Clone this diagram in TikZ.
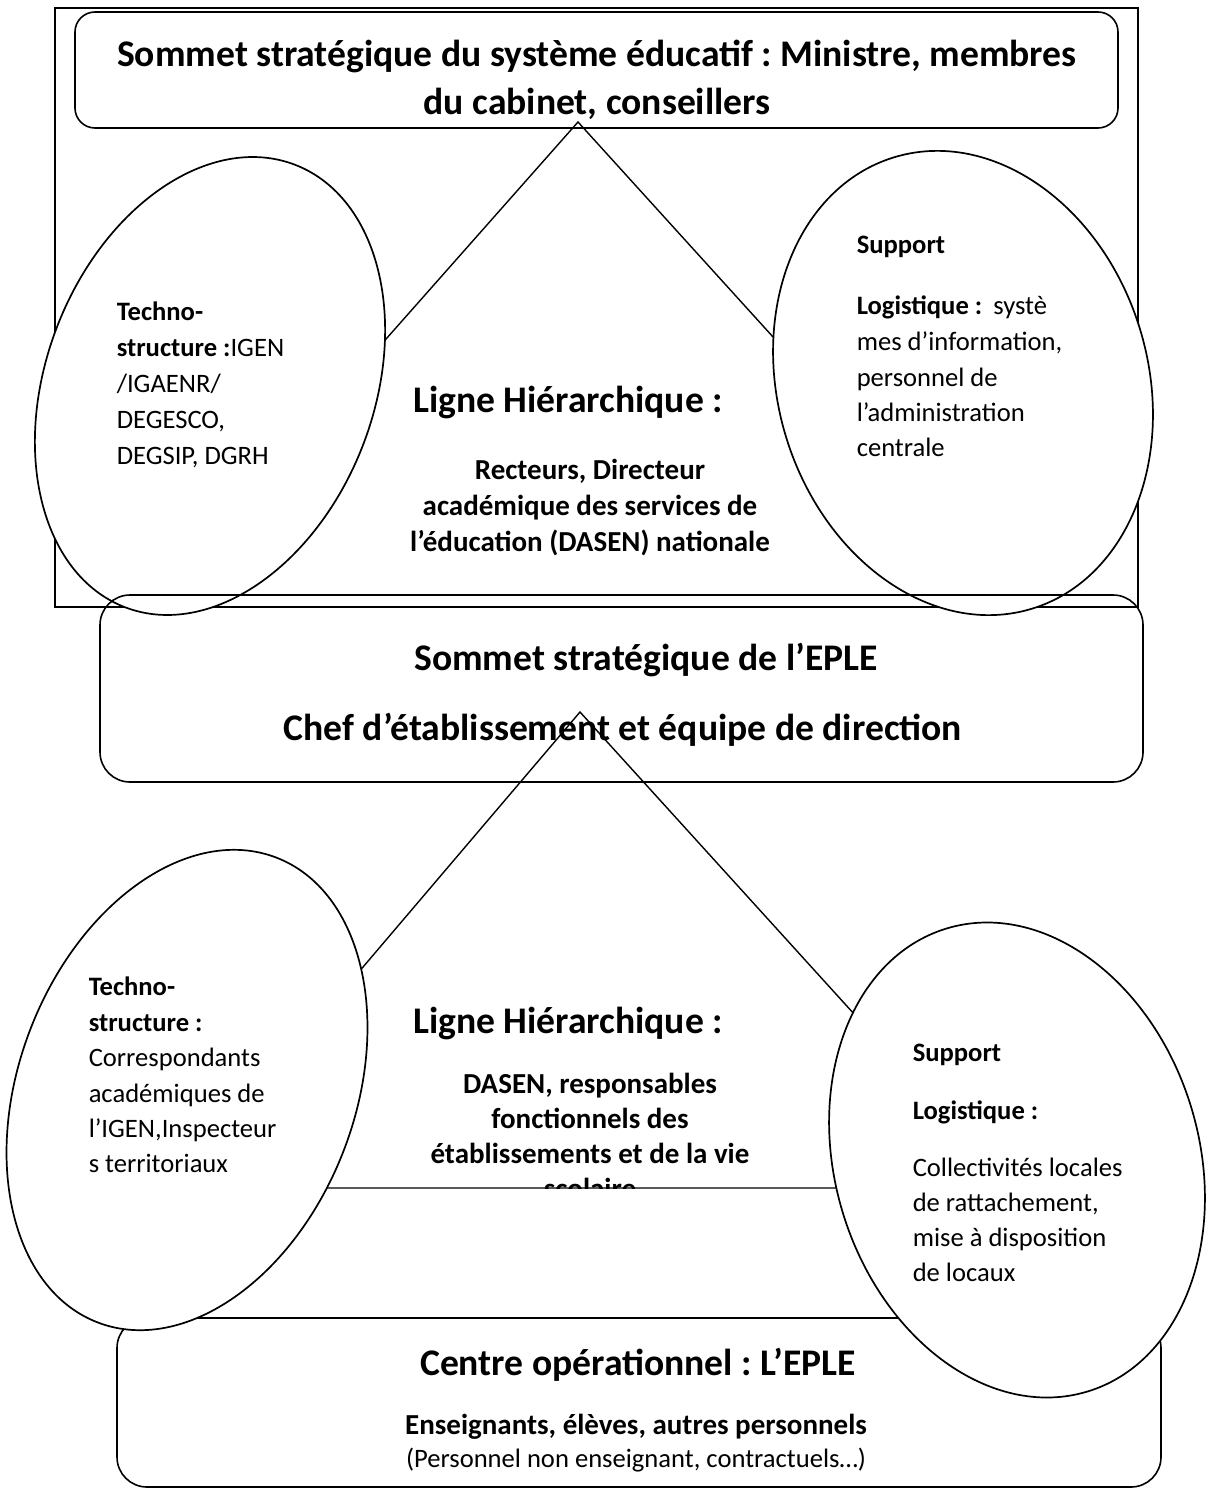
\documentclass[tikz,border=0pt]{standalone}
\usepackage{fontspec}
\setmainfont{Carlito}
\frenchspacing
\usetikzlibrary{shapes.geometric}
\begin{document}
\begin{tikzpicture}[x=1pt,y=-1pt,
  line width=1.5pt,
  ov/.style={ellipse,draw,fill=white,inner sep=0pt,outer sep=0pt,line width=1.7pt},
  frame/.style={draw,line width=1.7pt},
  rbox/.style={draw,line width=1.6pt,rounded corners=#1},
  side/.style={draw,line width=1.4pt},
  reg/.style={inner sep=0pt,anchor=base west,font=\fontsize{26.6}{32}\selectfont},
  bld/.style={inner sep=0pt,anchor=base west,font=\fontsize{26.6}{32}\selectfont\bfseries},
  cbig/.style={inner sep=0pt,anchor=base,font=\fontsize{37.6}{44}\selectfont\bfseries},
  cmid/.style={inner sep=0pt,anchor=base,font=\fontsize{29}{35}\selectfont\bfseries},
  creg/.style={inner sep=0pt,anchor=base,font=\fontsize{26.6}{32}\selectfont},
]
\useasboundingbox (0,0) rectangle (1207,1490);
\fill[white] (0,0) rectangle (1207,1490);

% ---------- upper section ----------
\draw[frame] (55,8) rectangle (1138,607);
\draw[rbox=20pt] (75,12) rectangle (1118,128);
\coordinate (apexA) at (578,122);
\coordinate (baseAL) at (149,607);
\coordinate (baseAR) at (1018,607);
\draw[side] (baseAL) -- (apexA) -- (baseAR);

\node[ov,minimum width=474pt,minimum height=328pt,rotate=69] (ulell) at (210,386) {};
\node[ov,minimum width=472pt,minimum height=370pt,rotate=107] (urell) at (963,383) {};

% box 2
\draw[rbox=30pt] (100,595) rectangle (1143,782);
\coordinate (apexB) at (580,712);
\coordinate (baseBL) at (175,1188);
\coordinate (baseBR) at (1012,1188);

% bottom box
\draw[rbox=30pt] (117,1318) rectangle (1161,1487);

% hierarchy text (clipped by the base)
\begin{scope}
\clip (300,900) rectangle (900,1188);
\node[cmid] (l2d) at (590,1198) {scolaire};
\end{scope}
\draw[side] (baseBL) -- (apexB) -- (baseBR) -- cycle;

\node[ov,minimum width=498pt,minimum height=336pt,rotate=69] (llell) at (187,1090) {};
\node[ov,minimum width=484pt,minimum height=364pt,rotate=107] (lrell) at (1017,1160) {};

% ---------- texts ----------
\node[cbig] (s1a) at (597,67) {Sommet stratégique du système éducatif : Ministre, membres};
\node[cbig] (s1b) at (597,115) {du cabinet, conseillers};

\node[bld] (t1a) at (116,320) {Techno-};
\node[reg] (t1b) at (116,356) {\textbf{structure :}IGEN};
\node[reg] (t1c) at (116,392) {/IGAENR/};
\node[reg] (t1d) at (116,428) {DEGESCO,};
\node[reg] (t1e) at (116,464) {DEGSIP, DGRH};

\node[bld] (u1a) at (856,253) {Support};
\node[reg] (u1b) at (856,314) {\textbf{Logistique :}\hspace{0.42em}systè};
\node[reg] (u1c) at (856,350) {mes d’information,};
\node[reg] (u1d) at (856,386) {personnel de};
\node[reg] (u1e) at (856,421) {l’administration};
\node[reg] (u1f) at (856,456) {centrale};

\node[cbig] (h1) at (568,412) {Ligne Hiérarchique :};
\node[cmid] (h1a) at (590,479) {Recteurs, Directeur};
\node[cmid] (h1b) at (590,515) {académique des services de};
\node[cmid] (h1c) at (590,551) {l’éducation (DASEN) nationale};

\node[cbig] (s2a) at (646,670) {Sommet stratégique de l’EPLE};
\node[cbig] (s2b) at (623,740) {Chef d’établissement et équipe de direction};

\node[cbig] (h2) at (568,1033) {Ligne Hiérarchique :};
\node[cmid] (l2a) at (590,1093) {DASEN, responsables};
\node[cmid] (l2b) at (590,1128) {fonctionnels des};
\node[cmid] (l2c) at (590,1163) {établissements et de la vie};

\node[bld] (t2a) at (88,995) {Techno-};
\node[bld] (t2b) at (88,1031) {structure :};
\node[reg] (t2c) at (88,1066) {Correspondants};
\node[reg] (t2d) at (88,1102) {académiques de};
\node[reg] (t2e) at (88,1137) {l’IGEN,Inspecteur};
\node[reg] (t2f) at (88,1172) {s territoriaux};

\node[bld] (u2a) at (912,1061) {Support};
\node[bld] (u2b) at (912,1119) {Logistique :};
\node[reg] (u2c) at (912,1176) {Collectivités locales};
\node[reg] (u2d) at (912,1211) {de rattachement,};
\node[reg] (u2e) at (912,1246) {mise à disposition};
\node[reg] (u2f) at (912,1281) {de locaux};

\node[cbig] (c3a) at (638,1375) {Centre opérationnel : L’EPLE};
\node[cmid] (c3b) at (636,1434) {Enseignants, élèves, autres personnels};
\node[creg] (c3c) at (636,1467) {(Personnel non enseignant, contractuels…)};
\end{tikzpicture}
\end{document}
